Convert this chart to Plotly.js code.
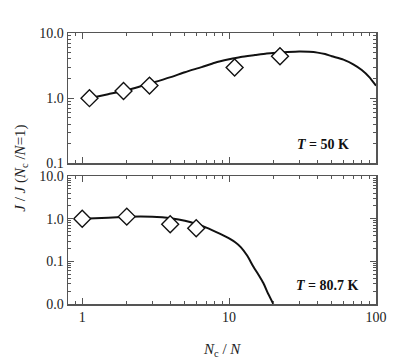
<!DOCTYPE html>
<html>
<head>
<meta charset="utf-8">
<script src="https://cdn.plot.ly/plotly-3.0.1.min.js"></script>
<style>html,body{margin:0;padding:0;background:#fff;}#chart{width:394px;height:361px;}</style>
</head>
<body>
<div id="chart"></div>
<script>
// Top panel (T = 50 K)
const topPtsX = [1.12, 1.91, 2.87, 10.9, 22.2];
const topPtsY = [1.0, 1.29, 1.56, 2.96, 4.4];
const topCurveX = [1.12, 1.5, 2, 3, 4, 5, 6.5, 8, 10, 12, 15, 18, 22, 25, 30, 35, 40, 45, 50, 60, 70, 80, 90, 100];
const topCurveY = [1.0, 1.15, 1.32, 1.72, 2.1, 2.5, 3.0, 3.5, 3.95, 4.3, 4.6, 4.85, 5.0, 5.1, 5.2, 5.15, 5.0, 4.75, 4.4, 3.9, 3.3, 2.7, 2.1, 1.55];
// Bottom panel (T = 80.7 K)
const botPtsX = [1.0, 2.01, 3.97, 5.97];
const botPtsY = [1.0, 1.12, 0.74, 0.6];
const botCurveX = [1, 1.5, 2, 2.5, 3, 3.5, 4, 5, 6, 7, 8.7, 10, 11, 12, 13.3, 14.6, 16, 17.1, 18.5, 20.0];
const botCurveY = [1.0, 1.06, 1.12, 1.13, 1.12, 1.08, 1.03, 0.9, 0.75, 0.62, 0.44, 0.345, 0.28, 0.216, 0.135, 0.076, 0.046, 0.031, 0.017, 0.01];

const serif = "Liberation Serif, Times New Roman, serif";
const frame = "#555";

const mk = {symbol: 'diamond', size: 13, color: '#fff', line: {color: '#111', width: 1.4}};
const traces = [
  {x: topCurveX, y: topCurveY, xaxis: 'x2', yaxis: 'y2', mode: 'lines', line: {color: '#111', width: 2, shape: 'spline', smoothing: 0.6}, hoverinfo: 'skip'},
  {x: topPtsX, y: topPtsY, xaxis: 'x2', yaxis: 'y2', mode: 'markers', marker: mk},
  {x: botCurveX, y: botCurveY, xaxis: 'x', yaxis: 'y', mode: 'lines', line: {color: '#111', width: 2, shape: 'spline', smoothing: 0.4}, hoverinfo: 'skip'},
  {x: botPtsX, y: botPtsY, xaxis: 'x', yaxis: 'y', mode: 'markers', marker: mk}
];

function xax(extra) {
  return Object.assign({
    type: 'log', range: [Math.log10(0.8), 2], dtick: 1,
    showgrid: false, zeroline: false,
    showline: true, linecolor: frame, linewidth: 1.5, mirror: 'ticks',
    ticks: 'inside', ticklen: 6, tickcolor: frame, tickwidth: 1,
    minor: {ticks: 'inside', ticklen: 3, tickcolor: frame, dtick: 'D1', showgrid: false},
    tickfont: {family: serif, size: 14, color: '#222'}
  }, extra);
}
function yax(extra) {
  return Object.assign({
    type: 'log', dtick: 1, tickformat: '.1f',
    showgrid: false, zeroline: false,
    showline: true, linecolor: frame, linewidth: 1.5, mirror: 'ticks',
    ticks: 'inside', ticklen: 6, tickcolor: frame, tickwidth: 1,
    minor: {ticks: 'inside', ticklen: 3, tickcolor: frame, dtick: 'D1', showgrid: false},
    tickfont: {family: serif, size: 14, color: '#222'}
  }, extra);
}

const layout = {
  width: 394, height: 361,
  margin: {l: 68, r: 18, t: 33, b: 57},
  paper_bgcolor: '#fff', plot_bgcolor: '#fff',
  showlegend: false,
  xaxis: xax({anchor: 'y', domain: [0, 1]}),
  xaxis2: xax({anchor: 'y2', domain: [0, 1], showticklabels: false, matches: 'x'}),
  yaxis: yax({anchor: 'x', domain: [0, 0.472], range: [-2, 1]}),
  yaxis2: yax({anchor: 'x2', domain: [0.519, 1], range: [-1, 1]}),
  annotations: [
    {xref: 'paper', yref: 'paper', x: 0.5, y: -0.17, xanchor: 'center', yanchor: 'middle', showarrow: false,
     text: '<i>N</i><sub>c</sub> / <i>N</i>', font: {family: serif, size: 15, color: '#222'}},
    {xref: 'paper', yref: 'paper', x: -0.155, y: 0.5, xanchor: 'center', yanchor: 'middle', textangle: -90, showarrow: false,
     text: '<i>J</i> / <i>J</i> (<i>N</i><sub>c</sub> /<i>N</i>=1)', font: {family: serif, size: 15, color: '#222'}},
    {xref: 'paper', yref: 'paper', x: 0.828, y: 0.587, xanchor: 'center', yanchor: 'middle', showarrow: false,
     text: '<b><i>T</i> = 50 K</b>', font: {family: serif, size: 14, color: '#111'}},
    {xref: 'paper', yref: 'paper', x: 0.841, y: 0.07, xanchor: 'center', yanchor: 'middle', showarrow: false,
     text: '<b><i>T</i> = 80.7 K</b>', font: {family: serif, size: 14, color: '#111'}}
  ]
};

Plotly.newPlot('chart', traces, layout, {displayModeBar: false, staticPlot: true});
</script>
</body>
</html>
